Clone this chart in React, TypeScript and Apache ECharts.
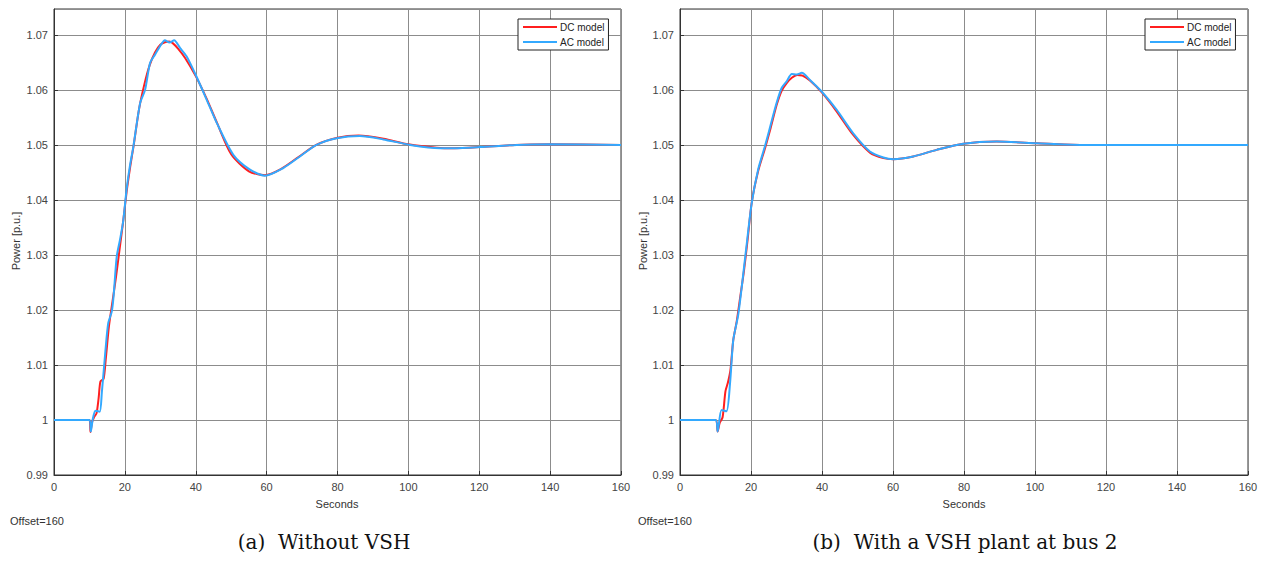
import React, { useEffect, useRef } from "react";
import * as echarts from "echarts";

// ---- Data ----
const seriesNames = ["DC model", "AC model"];
const xTicks = [0, 20, 40, 60, 80, 100, 120, 140, 160];
const yTicks = [0.99, 1.0, 1.01, 1.02, 1.03, 1.04, 1.05, 1.06, 1.07];

// (a) Without VSH
const aDcT = [0, 10, 10.3, 10.7, 11.3, 12, 12.6, 13.1, 14, 14.6, 15.5, 16.5, 17.5, 18.5, 19.5, 20.5, 21.5, 22.5, 24, 25.5, 27, 28.5, 30, 31.5, 32.5, 33.5, 35, 37, 40, 43, 46, 50, 55, 59.5, 64, 69, 74, 80, 86, 93, 100, 108, 113, 120, 130, 140, 160];
const aDcV = [1.0, 1.0, 0.9978, 0.9995, 1.0005, 1.0012, 1.004, 1.007, 1.0075, 1.011, 1.017, 1.0215, 1.026, 1.031, 1.036, 1.0415, 1.046, 1.05, 1.0565, 1.061, 1.0645, 1.0668, 1.0682, 1.0687, 1.0688, 1.0685, 1.0675, 1.0658, 1.0625, 1.0585, 1.054, 1.0483, 1.0452, 1.0445, 1.0456, 1.0478, 1.05, 1.0513, 1.0517, 1.0511, 1.0501, 1.0495, 1.0494, 1.0496, 1.05, 1.0501, 1.05];
const aAcT = [0, 10, 10.4, 10.9, 11.7, 12.9, 13.5, 14.5, 15.3, 16.3, 16.8, 17.7, 18.6, 19.5, 20.5, 21.4, 22.4, 24.3, 25.7, 27.1, 28.5, 29.9, 31.3, 32.6, 33.9, 35.6, 37.4, 40, 43.1, 46, 50.6, 55.3, 59.5, 64.7, 69.4, 74.1, 79.8, 86.3, 92.9, 100.5, 108.9, 112.7, 120.2, 130.6, 140, 160];
const aAcV = [1.0, 1.0, 0.9979, 1.0, 1.0017, 1.0015, 1.005, 1.0125, 1.0176, 1.0197, 1.0224, 1.0297, 1.0327, 1.036, 1.042, 1.0461, 1.0497, 1.0576, 1.06, 1.0649, 1.0664, 1.0679, 1.069, 1.0686, 1.069, 1.0676, 1.0661, 1.0627, 1.0582, 1.0539, 1.0482, 1.0455, 1.0444, 1.0458, 1.0479, 1.05, 1.0512, 1.0516, 1.051, 1.05, 1.0494, 1.0494, 1.0496, 1.05, 1.0501, 1.05];

// (b) With a VSH plant at bus 2
const bDcT = [0, 10, 10.6, 11.2, 12, 12.8, 13.5, 14.2, 15, 16, 17, 18, 19, 20.2, 22, 24, 25.5, 27.2, 28.6, 30, 31.5, 33, 34.5, 36.6, 40, 44, 48.8, 53.5, 57.3, 60.1, 65.7, 72.3, 79.8, 89.2, 100.5, 112.7, 130, 160];
const bDcV = [1.0, 1.0, 0.9979, 0.9995, 1.0005, 1.0052, 1.0068, 1.009, 1.0145, 1.018, 1.0225, 1.027, 1.0325, 1.0395, 1.0452, 1.0495, 1.053, 1.0572, 1.0598, 1.0612, 1.0622, 1.0627, 1.0626, 1.0617, 1.0595, 1.0562, 1.0518, 1.0486, 1.0476, 1.0474, 1.0479, 1.0491, 1.0502, 1.0506, 1.0503, 1.05, 1.05, 1.05];
const bAcT = [0, 10, 10.6, 11.7, 13.1, 14.1, 15, 16.4, 17.4, 18.6, 20.2, 22, 23.9, 25.4, 27.2, 28.6, 30, 31.5, 32.9, 34.3, 36.6, 39.9, 44.1, 48.8, 53.5, 57.3, 60.1, 65.7, 72.3, 79.8, 89.2, 100.5, 112.7, 130, 160];
const bAcV = [1.0, 1.0, 0.9979, 1.0018, 1.0016, 1.0067, 1.0145, 1.0191, 1.0242, 1.0309, 1.0394, 1.0455, 1.0497, 1.0533, 1.0576, 1.0603, 1.0615, 1.0629, 1.0628, 1.0631, 1.0618, 1.0597, 1.0564, 1.0521, 1.0488, 1.0477, 1.0474, 1.0479, 1.0491, 1.0502, 1.0506, 1.0503, 1.05, 1.05, 1.05];

const captions = ["(a)  Without VSH", "(b)  With a VSH plant at bus 2"];
const yAxisTitle = "Power [p.u.]";
const xAxisTitle = "Seconds";
const offsetText = "Offset=160";

const RED = "#ff1f1f";
const BLUE = "#33a9ff";
const zip = (t: number[], v: number[]) => t.map((x, i) => [x, v[i]]);

export default function App() {
  const ref = useRef<HTMLDivElement>(null);
  useEffect(() => {
    document.body.style.margin = "0";
    const chart = echarts.init(ref.current!, null, { renderer: "svg" });
    const grids = [
      { left: 54, top: 9, width: 567, height: 466 },
      { left: 680, top: 9, width: 568, height: 466 },
    ];
    const font = "Liberation Sans, Arial, sans-serif";
    const fmtY = (v: number) => String(parseFloat(v.toFixed(2)));
    const xAxes = grids.map((_, i) => ({
      type: "value",
      gridIndex: i,
      min: xTicks[0],
      max: xTicks[xTicks.length - 1],
      interval: xTicks[1] - xTicks[0],
      axisLine: { show: true, onZero: false, lineStyle: { color: "#333", width: 1 } },
      axisTick: { show: true, inside: true, length: 4, lineStyle: { color: "#333" } },
      axisLabel: { color: "#444", fontSize: 11, fontFamily: font, margin: 6 },
      splitLine: { show: true, lineStyle: { color: "#8c8c8c", width: 1 } },
    }));
    const yAxes = grids.map((_, i) => ({
      type: "value",
      gridIndex: i,
      min: yTicks[0],
      max: 1.0747,
      interval: 0.01,
      axisLine: { show: true, lineStyle: { color: "#333", width: 1 } },
      axisTick: { show: true, inside: true, length: 4, lineStyle: { color: "#333" } },
      axisLabel: { color: "#444", fontSize: 11, fontFamily: font, margin: 6, showMaxLabel: false, formatter: fmtY },
      splitLine: { show: true, lineStyle: { color: "#8c8c8c", width: 1 } },
    }));
    const mk = (name: string, data: number[][], idx: number, color: string) => ({
      name,
      type: "line",
      xAxisIndex: idx,
      yAxisIndex: idx,
      data,
      showSymbol: false,
      smooth: 0.25,
      lineStyle: { color, width: 2 },
      itemStyle: { color },
    });
    const legend = (left: number) => ({
      left,
      top: 19,
      orient: "vertical",
      data: seriesNames,
      icon: "rect",
      itemWidth: 34,
      itemHeight: 2,
      itemGap: 5,
      padding: [3, 4, 3, 5],
      backgroundColor: "#fff",
      borderColor: "#222",
      borderWidth: 1,
      borderRadius: 0,
      textStyle: { fontSize: 10, color: "#222", fontFamily: font, padding: [0, 0, 0, -2] },
      selectedMode: false,
    });
    const textEl = (x: number, y: number, text: string, extra: any = {}) => ({
      type: "text",
      x,
      y,
      style: { text, fill: "#333", font: `11px ${font}`, align: "center", verticalAlign: "middle", ...extra },
    });
    chart.setOption({
      animation: false,
      backgroundColor: "#fff",
      grid: grids.map((g) => ({ ...g, show: true, borderColor: "#333", borderWidth: 1, backgroundColor: "#fff" })),
      xAxis: xAxes,
      yAxis: yAxes,
      legend: [legend(518), legend(1145)],
      series: [
        mk(seriesNames[0], zip(aDcT, aDcV), 0, RED),
        mk(seriesNames[1], zip(aAcT, aAcV), 0, BLUE),
        mk(seriesNames[0], zip(bDcT, bDcV), 1, RED),
        mk(seriesNames[1], zip(bAcT, bAcV), 1, BLUE),
      ],
      graphic: [
        { ...textEl(16, 241, yAxisTitle), rotation: Math.PI / 2 },
        { ...textEl(643, 241, yAxisTitle), rotation: Math.PI / 2 },
        textEl(337, 504, xAxisTitle),
        textEl(964, 504, xAxisTitle),
        textEl(10, 521, offsetText, { align: "left" }),
        textEl(638, 521, offsetText, { align: "left" }),
        textEl(324, 542, captions[0], { font: `20px "DejaVu Serif", serif`, fill: "#111" }),
        textEl(965, 542, captions[1], { font: `20px "DejaVu Serif", serif`, fill: "#111" }),
      ],
    });
    return () => chart.dispose();
  }, []);
  return <div ref={ref} style={{ width: 1266, height: 567 }} />;
}
